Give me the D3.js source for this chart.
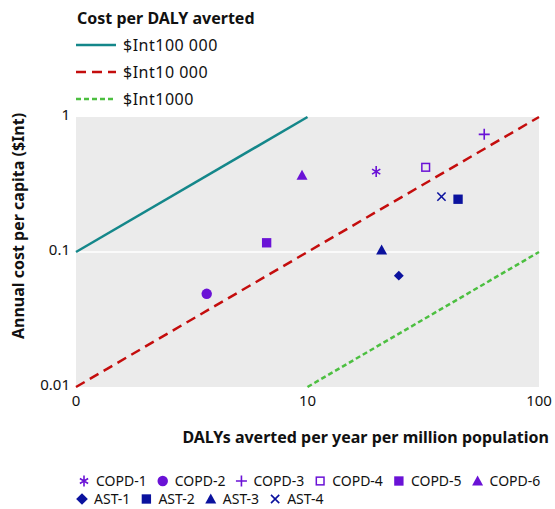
<!DOCTYPE html>
<html>
<head>
<meta charset="utf-8">
<script src="https://cdn.jsdelivr.net/npm/d3@7"></script>
<style>
  body { margin: 0; background: #fff; }
  svg text { font-family: "Noto Sans", "Open Sans", sans-serif; fill: #111; }
</style>
</head>
<body>
<div class="chart"></div>
<script>
"use strict";
// programmes and their values
var names = ["COPD-1", "COPD-2", "COPD-3", "COPD-4", "COPD-5", "COPD-6", "AST-1", "AST-2", "AST-3", "AST-4"];
var dalys = [19.8, 3.67, 58, 32.4, 6.66, 9.47, 24.8, 44.7, 20.9, 37.9];
var costs = [0.394, 0.049, 0.744, 0.424, 0.117, 0.37, 0.0668, 0.246, 0.1035, 0.257];
var shapes = ["asterisk", "circle", "plus", "squareOpen", "square", "triangle", "diamond", "square", "triangle", "cross"];
var groups = ["COPD", "COPD", "COPD", "COPD", "COPD", "COPD", "AST", "AST", "AST", "AST"];

// cost per DALY thresholds
var thresholdLabels = ["$Int100 000", "$Int10 000", "$Int1000"];
var thresholds = [100000, 10000, 1000];

var xTicks = [1, 10, 100];
var xTickLabels = ["0", "10", "100"];
var yTicks = [1, 0.1, 0.01];
var yTickLabels = ["1", "0.1", "0.01"];

var margin = {top: 117, right: 16, bottom: 122, left: 76},
    W = 555, H = 509,
    width = W - margin.left - margin.right,
    height = H - margin.top - margin.bottom;

var groupColor = {COPD: "#6a12d6", AST: "#0b129e"};
var lineColor = ["#14878a", "#c40d0d", "#4cbf40"];
var lineDash = [null, "10,6", "5,3"];

var svg = d3.select(".chart").append("svg")
    .attr("width", W).attr("height", H);

var x = d3.scaleLog().domain([1, 100]).range([0, width]);
var y = d3.scaleLog().domain([0.01, 1]).range([height, 0]);

var g = svg.append("g").attr("transform", "translate(" + margin.left + "," + margin.top + ")");

g.append("rect").attr("width", width).attr("height", height).attr("fill", "#ebebeb");

// white gridline at 0.1
g.append("line")
    .attr("x1", 0).attr("x2", width)
    .attr("y1", y(0.1)).attr("y2", y(0.1))
    .attr("stroke", "#fff").attr("stroke-width", 1.5);

// threshold lines: cost = dalys * threshold / 1e6
thresholds.forEach(function(t, i) {
  var k = t / 1e6;
  var x0 = Math.max(1, 0.01 / k), x1 = Math.min(100, 1 / k);
  g.append("line")
      .attr("x1", x(x0)).attr("y1", y(x0 * k))
      .attr("x2", x(x1)).attr("y2", y(x1 * k))
      .attr("stroke", lineColor[i])
      .attr("stroke-width", 2.5)
      .attr("stroke-dasharray", lineDash[i]);
});

// markers
function marker(sel, shape, color, s) {
  var r = s / 2;
  if (shape === "circle") {
    sel.append("circle").attr("r", r * 0.95).attr("fill", color);
  } else if (shape === "square") {
    sel.append("rect").attr("x", -r * 0.85).attr("y", -r * 0.85)
      .attr("width", r * 1.7).attr("height", r * 1.7).attr("fill", color);
  } else if (shape === "squareOpen") {
    sel.append("rect").attr("x", -r * 0.7).attr("y", -r * 0.7)
      .attr("width", r * 1.4).attr("height", r * 1.4)
      .attr("fill", "none").attr("stroke", color).attr("stroke-width", 1.5);
  } else if (shape === "triangle") {
    sel.append("path").attr("d", "M0," + (-r) + "L" + r + "," + (r * 0.8) + "L" + (-r) + "," + (r * 0.8) + "Z")
      .attr("fill", color);
  } else if (shape === "diamond") {
    sel.append("path").attr("d", "M0," + (-r * 0.9) + "L" + (r * 0.9) + ",0L0," + (r * 0.9) + "L" + (-r * 0.9) + ",0Z")
      .attr("fill", color);
  } else if (shape === "plus") {
    sel.append("path").attr("d", "M" + (-r) + ",0H" + r + "M0," + (-r) + "V" + r)
      .attr("stroke", color).attr("stroke-width", 1.6);
  } else if (shape === "cross") {
    var c = r * 0.75;
    sel.append("path").attr("d", "M" + (-c) + "," + (-c) + "L" + c + "," + c + "M" + c + "," + (-c) + "L" + (-c) + "," + c)
      .attr("stroke", color).attr("stroke-width", 1.6);
  } else if (shape === "asterisk") {
    var a = r * 0.75;
    sel.append("path").attr("d", "M0," + (-r) + "V" + r + "M" + (-a) + "," + (-a * 0.6) + "L" + a + "," + (a * 0.6) + "M" + a + "," + (-a * 0.6) + "L" + (-a) + "," + (a * 0.6))
      .attr("stroke", color).attr("stroke-width", 1.6);
  }
}

names.forEach(function(n, i) {
  var m = g.append("g").attr("transform", "translate(" + x(dalys[i]) + "," + y(costs[i]) + ")");
  marker(m, shapes[i], groupColor[groups[i]], 11);
});

// tick labels
g.selectAll(".ytick").data(yTicks).enter().append("text")
    .attr("x", -6).attr("y", function(d) { return y(d); })
    .attr("dy", "0.2em")
    .attr("text-anchor", "end")
    .style("font-size", "15px")
    .text(function(d, i) { return yTickLabels[i]; });

g.selectAll(".xtick").data(xTicks).enter().append("text")
    .attr("x", function(d) { return x(d); }).attr("y", height + 19)
    .attr("text-anchor", "middle")
    .style("font-size", "15px")
    .text(function(d, i) { return xTickLabels[i]; });

// axis titles
svg.append("text")
    .attr("x", 549).attr("y", 443)
    .attr("text-anchor", "end")
    .style("font-size", "16px").style("font-weight", "bold")
    .text("DALYs averted per year per million population");

svg.append("text")
    .attr("transform", "translate(24,226) rotate(-90)")
    .attr("text-anchor", "middle")
    .style("font-size", "16px").style("font-weight", "bold")
    .text("Annual cost per capita ($Int)");

// threshold legend
svg.append("text")
    .attr("x", 77).attr("y", 24)
    .style("font-size", "16px").style("font-weight", "bold")
    .text("Cost per DALY averted");

thresholdLabels.forEach(function(lab, i) {
  var ly = 45 + i * 27;
  svg.append("line")
      .attr("x1", 76).attr("x2", 116).attr("y1", ly).attr("y2", ly)
      .attr("stroke", lineColor[i]).attr("stroke-width", 2.5)
      .attr("stroke-dasharray", lineDash[i]);
  svg.append("text")
      .attr("x", 123).attr("y", ly + 6)
      .style("font-size", "16px").style("letter-spacing", "0.5px")
      .text(lab);
});

// marker legend, two rows
var rows = [[0, 1, 2, 3, 4, 5], [6, 7, 8, 9]];
rows.forEach(function(row, r) {
  var cx = r === 0 ? 84 : 82, ly = 481 + r * 18;
  row.forEach(function(i) {
    var m = svg.append("g").attr("transform", "translate(" + cx + "," + ly + ")");
    marker(m, shapes[i], groupColor[groups[i]], r === 1 && shapes[i] === "diamond" ? 13 : 11);
    var t = svg.append("text")
        .attr("x", cx + 12).attr("y", ly + 5)
        .style("font-size", "14px")
        .text(names[i]);
    cx += 12 + t.node().getComputedTextLength() + 16;
  });
});
</script>
</body>
</html>
